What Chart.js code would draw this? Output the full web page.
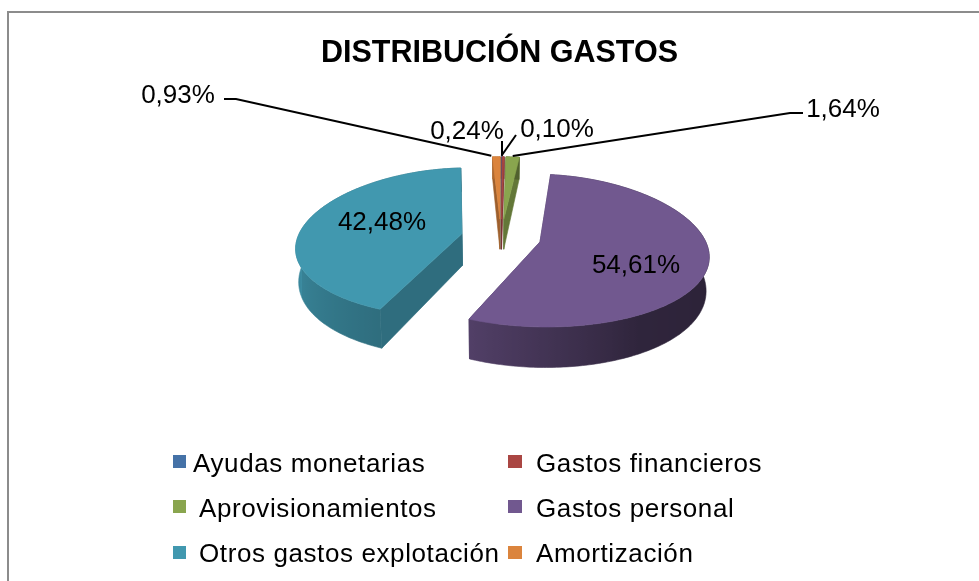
<!DOCTYPE html>
<html><head><meta charset="utf-8">
<style>html,body{margin:0;padding:0;background:#fff}#w{position:absolute;left:0;top:0;width:979px;height:581px}</style>
<script src="https://cdn.jsdelivr.net/npm/chart.js@4"></script>
</head><body><div id="w"><canvas id="c" width="979" height="581"></canvas></div>
<script>
const categories = ["Ayudas monetarias","Gastos financieros","Aprovisionamientos","Gastos personal","Otros gastos explotación","Amortización"];
const values = [0.10,0.24,1.64,54.61,42.48,0.93];
const colors = ["#4572A7","#AA4643","#89A54E","#71588F","#4198AF","#DB843D"];
const titleText = "DISTRIBUCIÓN GASTOS";
const fmt = v => v.toFixed(2).replace(".",",")+"%";

// view constants of the tilted 3D pie
const SQUASH=0.459, PERSP_X=0.17, PERSP_Y=0.115, EXPLODE=40, SHIFT_X=1.5;
function proj(el,x,v,d){
  const R=el.outerRadius, k=1-PERSP_X*v;
  let X=R*x*k, Y=-R*SQUASH*v*(1-PERSP_Y*v);
  if(d){ Y+=32-8*v; X*=0.985; }
  return [el.x+SHIFT_X+X, el.y+Y];
}
function shade(hex,f){
  const n=parseInt(hex.slice(1),16);
  return `rgb(${Math.round((n>>16&255)*f)},${Math.round((n>>8&255)*f)},${Math.round((n&255)*f)})`;
}
function wallF(deg){ // deg clockwise from top
  const p=[[0,.6],[90,.38],[150,.42],[204,.72],[270,.92],[360,.8]];
  for(let i=1;i<p.length;i++) if(deg<=p[i][0]){
    const t=(deg-p[i-1][0])/(p[i][0]-p[i-1][0]); return p[i-1][1]+t*(p[i][1]-p[i-1][1]);
  }
  return .8;
}
function geom(el){
  const s=el.startAngle,e=el.endAngle,m=(s+e)/2,off=el.options.offset/el.outerRadius;
  return {s,e,ox:Math.cos(m)*off,ov:-Math.sin(m)*off};
}
function pt(el,g,a,r,d){ return proj(el,g.ox+r*Math.cos(a),g.ov-r*Math.sin(a),d); }
function poly(ctx,pts,fill){
  ctx.beginPath(); pts.forEach((p,i)=>i?ctx.lineTo(p[0],p[1]):ctx.moveTo(p[0],p[1])); ctx.closePath();
  ctx.fillStyle=fill; ctx.strokeStyle=fill; ctx.lineWidth=.6; ctx.fill(); ctx.stroke();
}
class Arc3D extends Chart.ArcElement{
  draw(ctx){
    const g=geom(this), col=this.options.backgroundColor, step=Math.PI/180;
    const n=Math.max(1,Math.ceil((g.e-g.s)/step)), da=(g.e-g.s)/n;
    ctx.save();
    [g.s,g.e].forEach(a=>poly(ctx,[pt(this,g,a,0,0),pt(this,g,a,1,0),pt(this,g,a,1,1),pt(this,g,a,0,1)],shade(col,.72)));
    // outer wall: one band, shaded left-to-right over its visible (front) part
    const upper=[],lower=[],front=[];
    for(let i=0;i<=n;i++){
      const a=g.s+i*da,deg=(a*180/Math.PI+90+360)%360;
      upper.push(pt(this,g,a,1,0)); lower.unshift(pt(this,g,a,1,1));
      if(deg>=90&&deg<=270) front.push([pt(this,g,a,1,1)[0],wallF(deg)]);
    }
    let wall=shade(col,wallF((g.s+g.e)*90/Math.PI+90));
    if(front.length>1){
      const xs=front.map(f=>f[0]),x0=Math.min(...xs),x1=Math.max(...xs);
      wall=ctx.createLinearGradient(x0,0,x1,0);
      front.forEach(f=>wall.addColorStop((f[0]-x0)/(x1-x0),shade(col,f[1])));
    }
    poly(ctx,upper.concat(lower),wall);
    const top=[pt(this,g,g.s,0,0)].concat(upper);
    poly(ctx,top,col);
    ctx.restore();
  }
}
Arc3D.id='arc3d';
Arc3D.defaults=Chart.ArcElement.defaults;
class Pie3D extends Chart.PieController{}
Pie3D.id='pie3d';
Pie3D.defaults={dataElementType:'arc3d'};
Chart.register(Arc3D,Pie3D);

const FONT='"Liberation Sans", Arial, sans-serif';
const labelLayout=[
  {x:557,y:130,line:[[516,135]]},
  {x:467,y:132,line:[[502,141]],ax:502},
  {x:843,y:110,line:[[803,113],[790,113]]},
  {x:636,y:266},
  {x:382,y:223},
  {x:178,y:96,line:[[224,99],[236,99]],dx:-5}
];
const legendLayout=[
  {mx:173,my:455,tx:193,by:472},{mx:508,my:455,tx:536,by:472},
  {mx:173,my:500,tx:199,by:517},{mx:508,my:500,tx:536,by:517},
  {mx:173,my:546,tx:199,by:562},{mx:508,my:546,tx:536,by:562}
];
const frame={
  id:'frame',
  beforeDraw(ch){
    const c=ch.ctx; c.save(); c.strokeStyle='#8c8c8c'; c.lineWidth=2;
    c.beginPath(); c.moveTo(8,581); c.lineTo(8,12); c.lineTo(979,12); c.stroke(); c.restore();
  },
  afterDatasetsDraw(ch){
    const c=ch.ctx, meta=ch.getDatasetMeta(0);
    c.save(); c.fillStyle='#000'; c.strokeStyle='#000'; c.lineWidth=2;
    meta.data.forEach((el,i)=>{
      const L=labelLayout[i], g=geom(el);
      if(L.line){
        const a=pt(el,g,(g.s+g.e)/2,1,0);
        const ax=L.ax!==undefined?L.ax:a[0]+(L.dx||0);
        c.beginPath(); L.line.forEach((p,j)=>j?c.lineTo(p[0],p[1]):c.moveTo(p[0],p[1]));
        c.lineTo(ax,a[1]-1); c.stroke();
      }
      c.font='26px '+FONT; c.textAlign='center'; c.textBaseline='middle';
      c.fillText(fmt(values[i]),L.x,L.y);
    });
    c.textAlign='left'; c.textBaseline='alphabetic';
    c.font='26px '+FONT; c.letterSpacing='0.6px';
    categories.forEach((t,i)=>{
      const L=legendLayout[i];
      c.fillStyle=colors[i]; c.fillRect(L.mx,L.my,i%2?14:13,13);
      c.fillStyle='#000'; c.fillText(t,L.tx,L.by);
    });
    c.letterSpacing='0px';
    c.restore();
  }
};
new Chart(document.getElementById('c'),{
  type:'pie3d',
  data:{labels:categories,datasets:[{data:values,backgroundColor:colors,borderWidth:0,offset:EXPLODE,radius:164}]},
  options:{
    responsive:false,animation:false,rotation:0,
    layout:{padding:{left:20,right:0,top:30,bottom:179.3}},
    plugins:{
      legend:{display:false},tooltip:{enabled:false},
      title:{display:true,text:titleText,color:'#000',font:{family:FONT,size:30.5,weight:'bold'},padding:{top:5.7,bottom:0},align:'center'}
    }
  },
  plugins:[frame]
});
</script></body></html>
